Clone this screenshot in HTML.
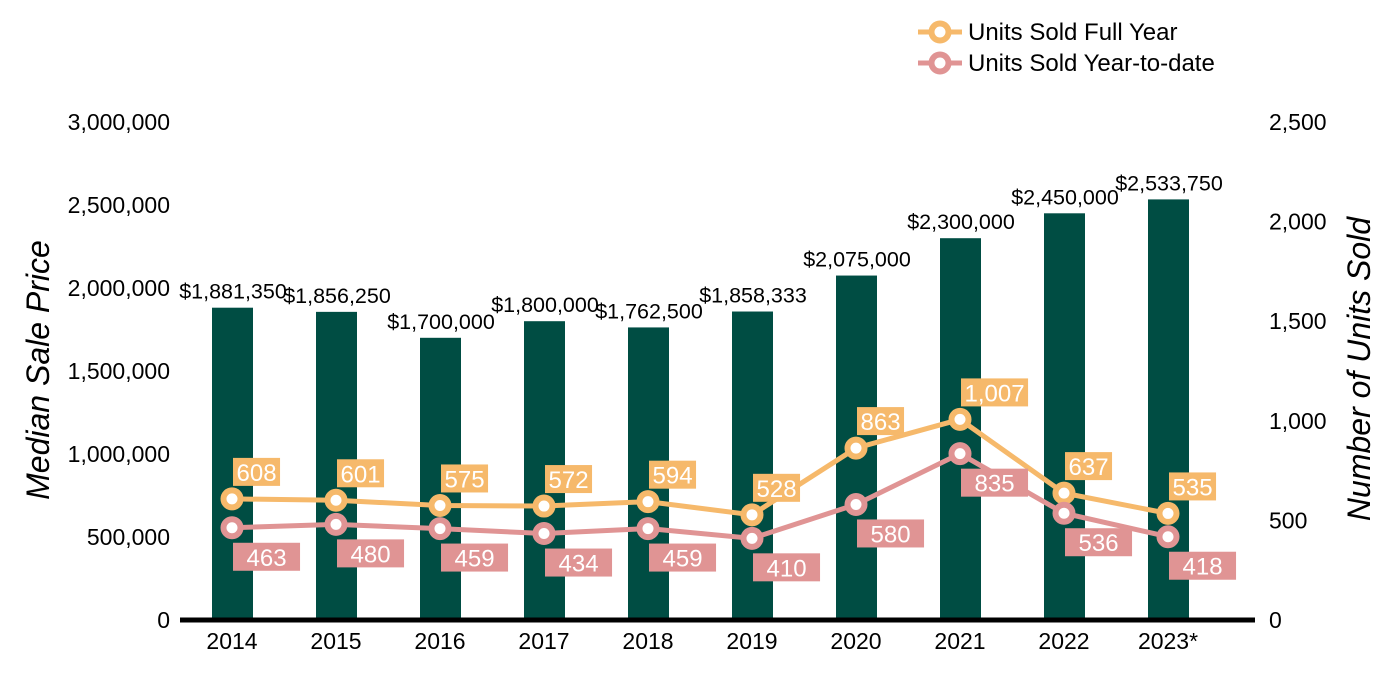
<!DOCTYPE html>
<html><head><meta charset="utf-8"><style>body{margin:0;background:#fff}svg{display:block;font-family:"Liberation Sans",Arial,sans-serif}</style></head>
<body>
<svg id="c" width="1400" height="700"></svg>
<script>
const categories=["2014","2015","2016","2017","2018","2019","2020","2021","2022","2023*"];
const prices=[1881350,1856250,1700000,1800000,1762500,1858333,2075000,2300000,2450000,2533750];
const fullYear=[608,601,575,572,594,528,863,1007,637,535];
const ytd=[463,480,459,434,459,410,580,835,536,418];
const leftTicks=[0,500000,1000000,1500000,2000000,2500000,3000000];
const rightTicks=[0,500,1000,1500,2000,2500];
const NS="http://www.w3.org/2000/svg";
const svg=document.getElementById('c');
function el(t,a,p){const e=document.createElementNS(NS,t);for(const k in a)e.setAttribute(k,a[k]);(p||svg).appendChild(e);return e;}
const y0=620,yTop=122;
const yL=v=>y0-v/3000000*(y0-yTop);
const yR=v=>y0-v/2500*(y0-yTop);
const xC=i=>232+i*104;
const fmt=n=>n.toLocaleString('en-US');
leftTicks.forEach(v=>{const t=el('text',{x:170,y:yL(v)+8,'text-anchor':'end','font-size':23,fill:'#000'});t.textContent=fmt(v);

});
rightTicks.forEach(v=>{const t=el('text',{x:1269,y:yR(v)+8,'font-size':23,fill:'#000'});t.textContent=fmt(v);

});
let t=el('text',{transform:'translate(49,370) rotate(-90)','text-anchor':'middle','font-size':32,'font-style':'italic'});t.textContent='Median Sale Price';

t=el('text',{transform:'translate(1370,369) rotate(-90)','text-anchor':'middle','font-size':32,'font-style':'italic'});t.textContent='Number of Units Sold';

categories.forEach((c,i)=>{
 const b=el('rect',{x:xC(i)-20,y:yL(prices[i]),width:41,height:y0-yL(prices[i]),fill:'#004d43'});
 
 
 const l=el('text',{x:xC(i)+1,y:yL(prices[i])-9,'text-anchor':'middle','font-size':21.5});l.textContent='$'+fmt(prices[i]);
 
 
 const x=el('text',{x:xC(i),y:649,'text-anchor':'middle','font-size':23});x.textContent=c;
 
 
});
const ax=el('line',{x1:180,x2:1255,y1:620,y2:620,stroke:'#000','stroke-width':5});

function series(vals,color,name,above){
 const pts=vals.map((v,i)=>xC(i)+','+yR(v)).join(' ');
 const pl=el('polyline',{points:pts,fill:'none',stroke:color,'stroke-width':5});
 
 
 vals.forEach((v,i)=>{
  const m=el('circle',{cx:xC(i),cy:yR(v),r:8.5,fill:'#fff',stroke:color,'stroke-width':6});
  
  
 });
 vals.forEach((v,i)=>{
  const cx=xC(i),cy=yR(v);
  const g=el('g',{});
  
  
  const r=el('rect',{fill:color},g);
  const tx=el('text',{'font-size':24,fill:'#fff'},g);tx.textContent=fmt(v);
  const w=tx.getComputedTextLength();
  const pad=above?3.5:13.5, bx=cx+1, by=above?cy-41:cy+15;
  r.setAttribute('x',bx);r.setAttribute('y',by);r.setAttribute('width',w+2*pad);r.setAttribute('height',28);
  tx.setAttribute('x',bx+pad);tx.setAttribute('y',by+23);
 });
}
series(fullYear,'#f6b96b','full-year',true);
series(ytd,'#e09494','ytd',false);
[['Units Sold Full Year','#f6b96b',32],['Units Sold Year-to-date','#e09494',63]].forEach(([txt,col,y])=>{
 const g=el('g',{});
 
 
 el('line',{x1:918,x2:962,y1:y,y2:y,stroke:col,'stroke-width':5},g);
 el('circle',{cx:940,cy:y,r:8.5,fill:'#fff',stroke:col,'stroke-width':6},g);
 const tt=el('text',{x:968,y:y+8,'font-size':24},g);tt.textContent=txt;
});
</script>
</body></html>
